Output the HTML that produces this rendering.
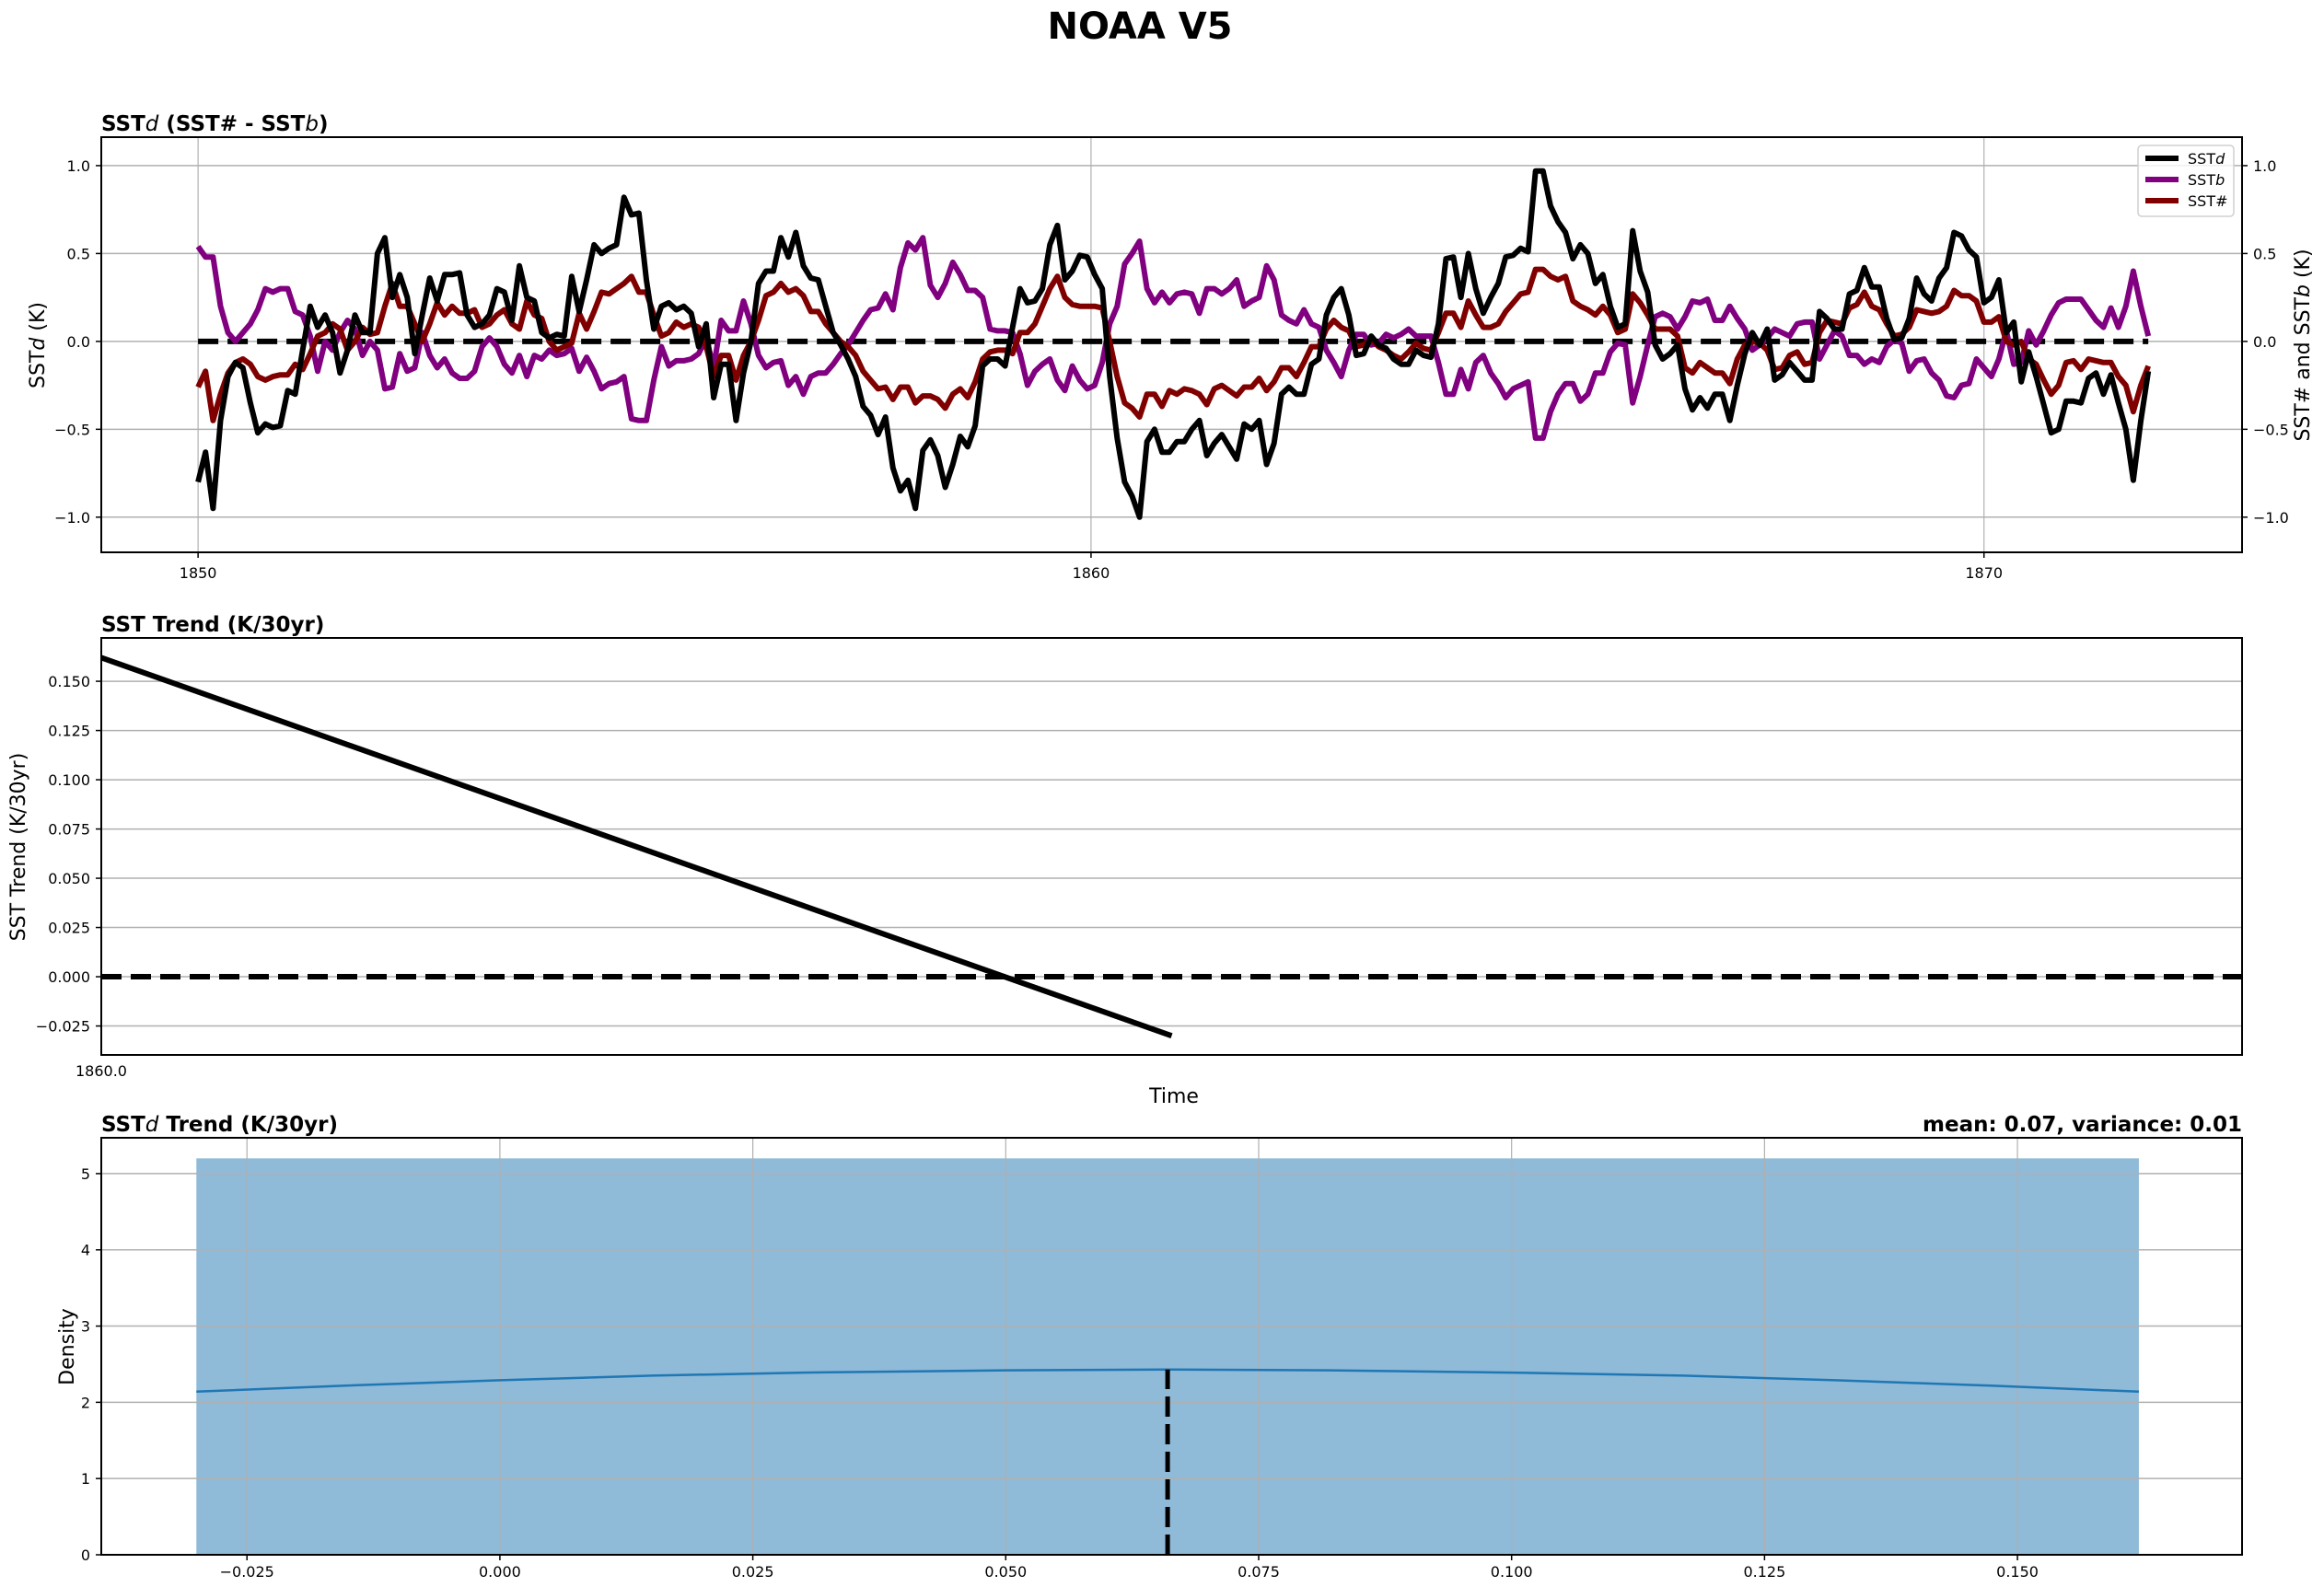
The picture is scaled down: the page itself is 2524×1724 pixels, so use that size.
<!DOCTYPE html>
<html><head><meta charset="utf-8"><title>NOAA V5</title>
<style>
html,body{margin:0;padding:0;background:#fff;}
svg{display:block;font-family:"DejaVu Sans","Liberation Sans",sans-serif;}
.tick{font-size:16px;fill:#000;}
.ttl{font-size:23px;font-weight:bold;fill:#000;}
.ylab{font-size:22px;fill:#000;}
</style></head>
<body>
<svg id="fig" xmlns="http://www.w3.org/2000/svg" width="2524" height="1724" viewBox="0 0 2524 1724">
<rect width="2524" height="1724" fill="#fff"/>
<text x="1238" y="42" text-anchor="middle" font-size="40" font-weight="bold" font-family="DejaVu Sans, sans-serif">NOAA V5</text>
<g id="p1"></g>
<g id="p2"></g>
<g id="p3"></g>
<text class="ttl" x="110" y="142">SST<tspan font-style="italic" font-weight="normal">d</tspan> (SST# - SST<tspan font-style="italic" font-weight="normal">b</tspan>)</text>
<text class="ttl" x="110" y="686">SST Trend (K/30yr)</text>
<text class="ttl" x="110" y="1229">SST<tspan font-style="italic" font-weight="normal">d</tspan> Trend (K/30yr)</text>
<text class="ttl" x="2435" y="1229" text-anchor="end">mean: 0.07, variance: 0.01</text>
<text class="ylab" transform="translate(48,375) rotate(-90)" text-anchor="middle">SST<tspan font-style="italic">d</tspan> (K)</text>
<text class="ylab" transform="translate(2508,375) rotate(-90)" text-anchor="middle">SST# and SST<tspan font-style="italic">b</tspan> (K)</text>
<text class="ylab" transform="translate(27,920) rotate(-90)" text-anchor="middle">SST Trend (K/30yr)</text>
<text class="ylab" transform="translate(80,1463) rotate(-90)" text-anchor="middle">Density</text>
<text class="ylab" x="1275" y="1198" text-anchor="middle">Time</text>
</svg>
<script>
// ---------- data ----------
const sstdValues = [-0.8,-0.63,-0.95,-0.45,-0.2,-0.12,-0.15,-0.35,-0.52,-0.47,
-0.49,-0.48,-0.28,-0.3,-0.05,0.2,0.08,0.15,0.05,-0.18,
-0.05,0.15,0.05,0.05,0.5,0.59,0.25,0.38,0.25,-0.07,
0.15,0.36,0.23,0.38,0.38,0.39,0.15,0.08,0.1,0.15,
0.3,0.28,0.12,0.43,0.25,0.23,0.05,0.02,0.04,0.03,
0.37,0.17,0.35,0.55,0.5,0.53,0.55,0.82,0.72,0.73,
0.35,0.07,0.2,0.22,0.18,0.2,0.16,-0.03,0.1,-0.32,
-0.13,-0.13,-0.45,-0.18,0.0,0.33,0.4,0.4,0.59,0.48,
0.62,0.43,0.36,0.35,0.2,0.05,-0.02,-0.1,-0.2,-0.37,
-0.42,-0.53,-0.43,-0.72,-0.85,-0.79,-0.95,-0.62,-0.56,-0.65,
-0.83,-0.7,-0.54,-0.6,-0.48,-0.14,-0.1,-0.1,-0.14,0.08,
0.3,0.22,0.23,0.3,0.55,0.66,0.35,0.4,0.49,0.48,
0.38,0.3,-0.2,-0.55,-0.8,-0.88,-1.0,-0.57,-0.5,-0.63,
-0.63,-0.57,-0.57,-0.5,-0.45,-0.65,-0.58,-0.53,-0.6,-0.67,
-0.47,-0.5,-0.45,-0.7,-0.58,-0.3,-0.26,-0.3,-0.3,-0.13,
-0.1,0.15,0.25,0.3,0.15,-0.08,-0.07,0.03,-0.02,-0.04,
-0.1,-0.13,-0.13,-0.05,-0.08,-0.09,0.1,0.47,0.48,0.25,
0.5,0.3,0.16,0.25,0.33,0.48,0.49,0.53,0.51,0.97,
0.97,0.77,0.68,0.62,0.47,0.55,0.5,0.33,0.38,0.2,
0.08,0.1,0.63,0.4,0.28,-0.02,-0.1,-0.07,-0.02,-0.27,
-0.39,-0.32,-0.38,-0.3,-0.3,-0.45,-0.25,-0.07,0.05,-0.02,
0.07,-0.22,-0.19,-0.12,-0.17,-0.22,-0.22,0.17,0.13,0.07,
0.07,0.27,0.29,0.42,0.31,0.31,0.13,0.01,0.02,0.13,
0.36,0.27,0.23,0.36,0.42,0.62,0.6,0.52,0.48,0.22,
0.25,0.35,0.05,0.11,-0.23,-0.06,-0.2,-0.36,-0.52,-0.5,
-0.34,-0.34,-0.35,-0.21,-0.18,-0.3,-0.19,-0.35,-0.5,-0.79,
-0.45,-0.17];
const sstbValues = [0.54,0.48,0.48,0.2,0.05,0.0,0.05,0.1,0.18,0.3,
0.28,0.3,0.3,0.17,0.15,0.03,-0.17,0.0,-0.05,0.05,
0.12,0.07,-0.08,0.0,-0.05,-0.27,-0.26,-0.07,-0.17,-0.15,
0.05,-0.08,-0.15,-0.1,-0.18,-0.21,-0.21,-0.17,-0.03,0.02,
-0.03,-0.13,-0.18,-0.08,-0.2,-0.08,-0.1,-0.05,-0.08,-0.07,
-0.04,-0.17,-0.09,-0.17,-0.27,-0.24,-0.23,-0.2,-0.44,-0.45,
-0.45,-0.22,-0.03,-0.14,-0.11,-0.11,-0.1,-0.07,0.02,-0.15,
0.12,0.06,0.06,0.23,0.1,-0.08,-0.15,-0.12,-0.11,-0.25,
-0.2,-0.3,-0.2,-0.18,-0.18,-0.13,-0.07,-0.02,0.05,0.12,
0.18,0.19,0.27,0.18,0.42,0.56,0.52,0.59,0.32,0.25,
0.33,0.45,0.38,0.29,0.29,0.25,0.07,0.06,0.06,0.05,
-0.07,-0.25,-0.17,-0.13,-0.1,-0.22,-0.28,-0.14,-0.22,-0.27,
-0.25,-0.12,0.1,0.2,0.44,0.5,0.57,0.3,0.22,0.28,
0.22,0.27,0.28,0.27,0.16,0.3,0.3,0.27,0.3,0.35,
0.2,0.23,0.25,0.43,0.35,0.15,0.12,0.1,0.18,0.1,
0.08,-0.05,-0.12,-0.2,-0.05,0.04,0.04,-0.02,-0.01,0.04,
0.02,0.04,0.07,0.03,0.03,0.03,-0.12,-0.3,-0.3,-0.16,
-0.27,-0.12,-0.08,-0.18,-0.24,-0.32,-0.27,-0.25,-0.23,-0.55,
-0.55,-0.4,-0.3,-0.24,-0.24,-0.34,-0.3,-0.18,-0.18,-0.06,
-0.01,-0.02,-0.35,-0.2,-0.02,0.14,0.16,0.14,0.07,0.14,
0.23,0.22,0.24,0.12,0.12,0.2,0.13,0.07,-0.05,-0.02,
0.02,0.07,0.05,0.03,0.1,0.11,0.11,-0.1,-0.02,0.06,
0.03,-0.08,-0.08,-0.13,-0.1,-0.12,-0.03,0.01,-0.01,-0.17,
-0.11,-0.1,-0.18,-0.22,-0.31,-0.32,-0.25,-0.24,-0.1,-0.15,
-0.2,-0.1,0.06,-0.13,-0.12,0.06,-0.02,0.06,0.15,0.22,
0.24,0.24,0.24,0.18,0.12,0.08,0.19,0.08,0.2,0.4,
0.2,0.03];
const sstHashValues = [-0.26,-0.17,-0.45,-0.3,-0.18,-0.12,-0.1,-0.13,-0.2,-0.22,
-0.2,-0.19,-0.19,-0.13,-0.16,-0.07,0.03,0.05,0.1,0.07,
-0.05,0.0,0.08,0.04,0.05,0.2,0.33,0.2,0.2,0.1,
0.0,0.1,0.22,0.15,0.2,0.16,0.16,0.18,0.08,0.1,
0.15,0.18,0.1,0.07,0.23,0.15,0.13,0.0,-0.05,-0.03,
-0.01,0.16,0.07,0.17,0.28,0.27,0.3,0.33,0.37,0.28,
0.28,0.15,0.03,0.05,0.11,0.08,0.1,0.08,-0.03,-0.2,
-0.08,-0.08,-0.22,-0.08,0.0,0.12,0.26,0.28,0.33,0.28,
0.3,0.26,0.17,0.17,0.1,0.05,0.0,-0.03,-0.08,-0.17,
-0.22,-0.27,-0.26,-0.33,-0.26,-0.26,-0.35,-0.31,-0.31,-0.33,
-0.38,-0.3,-0.27,-0.32,-0.23,-0.1,-0.06,-0.05,-0.05,-0.07,
0.05,0.05,0.1,0.2,0.3,0.37,0.25,0.21,0.2,0.2,
0.2,0.19,0.0,-0.2,-0.35,-0.38,-0.43,-0.3,-0.3,-0.37,
-0.28,-0.3,-0.27,-0.28,-0.3,-0.36,-0.27,-0.25,-0.28,-0.31,
-0.26,-0.26,-0.21,-0.28,-0.23,-0.15,-0.15,-0.2,-0.12,-0.03,
-0.03,0.07,0.12,0.08,0.06,-0.03,-0.02,0.01,-0.03,-0.05,
-0.08,-0.1,-0.06,-0.01,-0.04,-0.05,0.05,0.16,0.16,0.08,
0.23,0.15,0.08,0.08,0.1,0.17,0.22,0.27,0.28,0.41,
0.41,0.37,0.35,0.37,0.23,0.2,0.18,0.15,0.2,0.15,
0.05,0.07,0.27,0.22,0.15,0.07,0.07,0.07,0.03,-0.15,
-0.18,-0.12,-0.15,-0.18,-0.18,-0.24,-0.1,-0.02,0.0,-0.01,
-0.05,-0.16,-0.15,-0.08,-0.06,-0.13,-0.12,0.05,0.12,0.11,
0.1,0.19,0.21,0.28,0.2,0.18,0.1,0.03,0.04,0.08,
0.18,0.17,0.16,0.17,0.2,0.29,0.26,0.26,0.23,0.11,
0.11,0.14,0.0,-0.02,0.0,-0.1,-0.13,-0.22,-0.3,-0.25,
-0.12,-0.11,-0.16,-0.1,-0.11,-0.12,-0.12,-0.2,-0.25,-0.4,
-0.25,-0.14];
const timeStart = 1850.0;
const timeEnd = 1871.84;
const topYTicks = [-1.0, -0.5, 0.0, 0.5, 1.0];
const topXTicks = [1850, 1860, 1870];

const trendTimes = [1860.0, 1860.5];
const trendValues = [0.162, -0.030];
const trendYTicks = [-0.025, 0.0, 0.025, 0.05, 0.075, 0.1, 0.125, 0.15];
const trendYTickLabels = ["\u22120.025","0.000","0.025","0.050","0.075","0.100","0.125","0.150"];

const histBinEdges = [-0.030, 0.162];
const histDensity = [5.2];
const kdeX = [-0.030,-0.015,0.0,0.015,0.030,0.050,0.066,0.082,0.100,0.117,0.132,0.147,0.162];
const kdeY = [2.14,2.22,2.29,2.35,2.39,2.42,2.43,2.42,2.39,2.35,2.29,2.22,2.14];
const meanValue = 0.066;
const histXTicks = [-0.025,0.0,0.025,0.05,0.075,0.1,0.125,0.15];
const histXTickLabels = ["\u22120.025","0.000","0.025","0.050","0.075","0.100","0.125","0.150"];
const histYTicks = [0,1,2,3,4,5];

// ---------- helpers ----------
const NS = "http://www.w3.org/2000/svg";
function mk(parent, tag, attrs) {
  const e = document.createElementNS(NS, tag);
  for (const k in attrs) e.setAttribute(k, attrs[k]);
  parent.appendChild(e);
  return e;
}
function lin(d0, d1, r0, r1) { return v => r0 + (v - d0) / (d1 - d0) * (r1 - r0); }
function pathFrom(xs, ys, fx, fy) {
  return xs.map((x, i) => (i ? "L" : "M") + fx(x).toFixed(1) + " " + fy(ys[i]).toFixed(1)).join(" ");
}
function timesFor(arr) {
  return arr.map((_, i) => timeStart + i * (timeEnd - timeStart) / (arr.length - 1));
}
const L = 110, R = 2435;
const GRID = "#b0b0b0";

// ---------- panel 1 ----------
const p1 = document.getElementById("p1");
const t1 = 149, b1 = 600;
const x1 = lin(1848.916, 1872.89, L, R);
const y1 = lin(-1.2, 1.162, b1, t1);
topYTicks.forEach(v => {
  const g = mk(p1, "line", {x1: L, x2: R, y1: y1(v), y2: y1(v), stroke: GRID, "stroke-width": 1.5});
  
  
  const lab = v === 0 ? "0.0" : (v < 0 ? "\u2212" : "") + Math.abs(v).toFixed(1);
  const tl = mk(p1, "text", {x: L - 12, y: y1(v) + 6, "text-anchor": "end", class: "tick"});
  tl.textContent = lab;
  
  
  const tr = mk(p1, "text", {x: R + 12, y: y1(v) + 6, "text-anchor": "start", class: "tick"});
  tr.textContent = lab;
  
  
  mk(p1, "line", {x1: L - 6, x2: L, y1: y1(v), y2: y1(v), stroke: "#000", "stroke-width": 1.5});
  mk(p1, "line", {x1: R, x2: R + 6, y1: y1(v), y2: y1(v), stroke: "#000", "stroke-width": 1.5});
});
topXTicks.forEach(v => {
  const g = mk(p1, "line", {x1: x1(v), x2: x1(v), y1: t1, y2: b1, stroke: GRID, "stroke-width": 1.2});
  
  
  mk(p1, "line", {x1: x1(v), x2: x1(v), y1: b1, y2: b1 + 6, stroke: "#000", "stroke-width": 1.5});
  const tl = mk(p1, "text", {x: x1(v), y: b1 + 28, "text-anchor": "middle", class: "tick"});
  tl.textContent = String(v);
  
  
});
const z1 = mk(p1, "line", {x1: x1(timeStart), x2: x1(timeEnd), y1: y1(0), y2: y1(0), stroke: "#000", "stroke-width": 6, "stroke-dasharray": "22 10"});


const sb = mk(p1, "path", {d: pathFrom(timesFor(sstbValues), sstbValues, x1, y1), fill: "none", stroke: "#800080", "stroke-width": 6, "stroke-linejoin": "round"});


const sh = mk(p1, "path", {d: pathFrom(timesFor(sstHashValues), sstHashValues, x1, y1), fill: "none", stroke: "#800000", "stroke-width": 6, "stroke-linejoin": "round"});


const sd = mk(p1, "path", {d: pathFrom(timesFor(sstdValues), sstdValues, x1, y1), fill: "none", stroke: "#000", "stroke-width": 6, "stroke-linejoin": "round"});


const f1 = mk(p1, "rect", {x: L, y: t1, width: R - L, height: b1 - t1, fill: "none", stroke: "#000", "stroke-width": 2});


// legend
const lg = mk(p1, "g", {});


mk(lg, "rect", {x: 2322, y: 158, width: 104, height: 77, rx: 4, fill: "#fff", "fill-opacity": 0.8, stroke: "#d0d0d0", "stroke-width": 1.5});
const legItems = [["SST", "d", "#000", "legend-entry-sstd"], ["SST", "b", "#800080", "legend-entry-sstb"], ["SST#", "", "#800000", "legend-entry-sst-hash"]];
legItems.forEach((it, i) => {
  const yy = 172 + i * 23;
  const e = mk(lg, "g", {});
  
  
  mk(e, "line", {x1: 2330, x2: 2366, y1: yy, y2: yy, stroke: it[2], "stroke-width": 6});
  const t = mk(e, "text", {x: 2376, y: yy + 6, class: "tick"});
  t.textContent = it[0];
  if (it[1]) { const ts = mk(t, "tspan", {"font-style": "italic"}); ts.textContent = it[1]; }
});

// ---------- panel 2 ----------
const p2 = document.getElementById("p2");
const t2 = 693, b2 = 1146;
const x2 = lin(1860.0, 1861.0, L, R);
const y2 = lin(-0.0397, 0.172, b2, t2);
trendYTicks.forEach((v, i) => {
  const g = mk(p2, "line", {x1: L, x2: R, y1: y2(v), y2: y2(v), stroke: GRID, "stroke-width": 1.5});
  
  
  mk(p2, "line", {x1: L - 6, x2: L, y1: y2(v), y2: y2(v), stroke: "#000", "stroke-width": 1.5});
  const tl = mk(p2, "text", {x: L - 12, y: y2(v) + 6, "text-anchor": "end", class: "tick"});
  tl.textContent = trendYTickLabels[i];
  
  
});
const xt2 = mk(p2, "text", {x: L, y: b2 + 23, "text-anchor": "middle", class: "tick"});
xt2.textContent = "1860.0";


const z2 = mk(p2, "line", {x1: L, x2: R, y1: y2(0), y2: y2(0), stroke: "#000", "stroke-width": 6, "stroke-dasharray": "22 10"});


const tl2 = mk(p2, "path", {d: pathFrom(trendTimes, trendValues, x2, y2), fill: "none", stroke: "#000", "stroke-width": 6});


const f2 = mk(p2, "rect", {x: L, y: t2, width: R - L, height: b2 - t2, fill: "none", stroke: "#000", "stroke-width": 2});



// ---------- panel 3 ----------
const p3 = document.getElementById("p3");
const t3 = 1236, b3 = 1689;
const x3 = lin(-0.0394, 0.1722, L, R);
const y3 = lin(0, 5.47, b3, t3);
for (let i = 0; i < histDensity.length; i++) {
  const bar = mk(p3, "rect", {x: x3(histBinEdges[i]), y: y3(histDensity[i]), width: x3(histBinEdges[i + 1]) - x3(histBinEdges[i]), height: y3(0) - y3(histDensity[i]), fill: "#8fbad8"});
  
  
}
histYTicks.forEach(v => {
  const g = mk(p3, "line", {x1: L, x2: R, y1: y3(v), y2: y3(v), stroke: GRID, "stroke-width": 1.5});
  
  
  mk(p3, "line", {x1: L - 6, x2: L, y1: y3(v), y2: y3(v), stroke: "#000", "stroke-width": 1.5});
  const tl = mk(p3, "text", {x: L - 12, y: y3(v) + 6, "text-anchor": "end", class: "tick"});
  tl.textContent = String(v);
  
  
});
histXTicks.forEach((v, i) => {
  const g = mk(p3, "line", {x1: x3(v), x2: x3(v), y1: t3, y2: b3, stroke: GRID, "stroke-width": 1.2});
  
  
  mk(p3, "line", {x1: x3(v), x2: x3(v), y1: b3, y2: b3 + 6, stroke: "#000", "stroke-width": 1.5});
  const tl = mk(p3, "text", {x: x3(v), y: b3 + 24, "text-anchor": "middle", class: "tick"});
  tl.textContent = histXTickLabels[i];
  
  
});
const kde = mk(p3, "path", {d: pathFrom(kdeX, kdeY, x3, y3), fill: "none", stroke: "#1f77b4", "stroke-width": 2.5});


const ml = mk(p3, "line", {x1: x3(meanValue), x2: x3(meanValue), y1: y3(0), y2: y3(kdeY[6]), stroke: "#000", "stroke-width": 5, "stroke-dasharray": "22 8"});


const f3 = mk(p3, "rect", {x: L, y: t3, width: R - L, height: b3 - t3, fill: "none", stroke: "#000", "stroke-width": 2});


</script>
</body></html>
